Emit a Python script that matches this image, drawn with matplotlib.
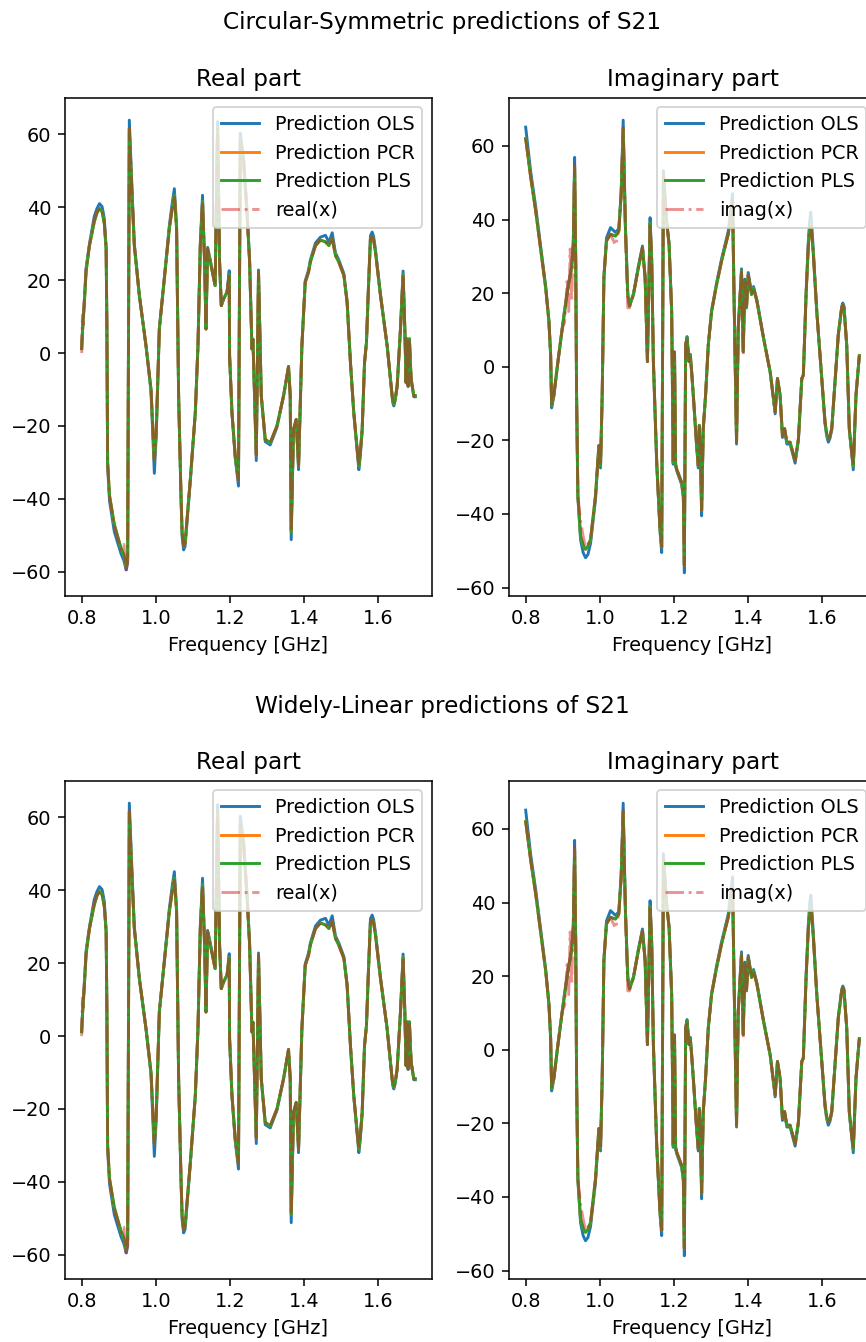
import matplotlib
matplotlib.use("Agg")
import matplotlib.pyplot as plt

# ---------------------------------------------------------------- data
# Real part of S21 versus frequency (GHz)
real_freq = [
    0.800, 0.802, 0.804, 0.807, 0.812, 0.821, 0.834, 0.841, 0.848, 0.855, 0.861, 0.866,
    0.868, 0.870, 0.875, 0.888, 0.906, 0.914, 0.920, 0.924, 0.9285, 0.936,
    0.942, 0.9555, 0.9735, 0.987, 0.996, 1.001, 1.0095, 1.023, 1.0365, 1.044, 1.050,
    1.056, 1.0615, 1.068, 1.071, 1.075, 1.079, 1.093, 1.1065, 1.1137, 1.120,
    1.126, 1.1315, 1.1353, 1.1397, 1.147, 1.160, 1.1666, 1.172, 1.1766, 1.183,
    1.192, 1.198, 1.199, 1.2054, 1.2143, 1.223, 1.2278, 1.2367, 1.2458, 1.253,
    1.2593, 1.262, 1.271, 1.277, 1.2844, 1.2952, 1.3086, 1.3267, 1.3445, 1.358,
    1.3626, 1.3652, 1.3714, 1.3787, 1.385, 1.394, 1.403, 1.412, 1.417, 1.4307,
    1.444, 1.4577, 1.4668, 1.4758, 1.4846, 1.4938, 1.5073, 1.516, 1.525, 1.534,
    1.5432, 1.5477, 1.551, 1.5566, 1.563, 1.5682, 1.5728, 1.579, 1.5836, 1.5875, 1.5925, 1.606,
    1.624, 1.6375, 1.6395, 1.642, 1.6455, 1.651, 1.660, 1.667, 1.6717, 1.675, 1.678, 1.6806,
    1.684, 1.6887, 1.696, 1.700,
]
real_true = [
    0.0, 10.5, 7.0, 14.5, 23.0, 29.5, 36.5, 38.6, 39.7, 39.0, 36.0, 28.7,
    6.7, -30.0, -39.3, -47.5, -53.9, -52.5, -60.3, -57.0, 61.7, 43.3,
    29.5, 15.8, 2.0, -9.9, -29.5, -21.0, 6.7, 20.4, 34.2, 39.5, 43.3,
    34.2, -11.7, -39.3, -49.0, -53.0, -52.0, -34.7, -16.3, 2.0, 29.5,
    41.5, 24.9, 6.6, 28.6, 25.0, 18.5, 61.7, 25.0, 13.0, 14.9,
    16.7, 21.5, -0.7, -16.3, -28.3, -35.0, 58.5, 52.5, 38.7, 25.0,
    1.1, 3.8, -28.0, 22.2, -11.7, -23.7, -24.6, -20.0, -11.7, -3.7,
    -11.7, -49.0, -20.9, -18.2, -31.0, 2.0, 19.4, 22.2, 25.0, 29.5,
    31.0, 30.5, 29.5, 31.5, 26.8, 24.9, 21.3, 13.9, -2.6, -16.3,
    -26.4, -31.0, -28.0, -20.9, -2.6, 2.9, 15.8, 31.4, 32.0, 31.0, 27.7, 15.8,
    2.0, -11.7, -13.3, -14.0, -12.8, -9.0, 6.6, 21.5, 6.6, -8.0, 3.9, -9.0,
    3.9, -7.2, -11.7, -11.7,
]
real_ols = [
    1.5, 6.0, 9.5, 14.0, 23.5, 30.0, 37.5, 39.6, 41.0, 40.2, 37.0, 29.0,
    6.7, -31.0, -40.5, -49.0, -55.0, -57.0, -59.5, -57.5, 63.9, 44.5,
    30.0, 16.0, 2.0, -10.5, -33.0, -23.0, 6.7, 20.8, 35.0, 41.0, 45.1,
    35.0, -11.7, -40.0, -50.5, -54.0, -53.0, -35.2, -16.5, 2.0, 30.0,
    43.3, 25.5, 6.6, 29.0, 25.5, 18.5, 63.5, 25.0, 13.0, 14.9,
    16.7, 22.6, -0.7, -16.5, -29.0, -36.5, 60.3, 53.5, 39.5, 25.5,
    1.1, 3.8, -29.5, 22.8, -11.7, -24.3, -25.2, -20.4, -11.9, -3.7,
    -11.7, -51.2, -21.5, -18.5, -32.0, 2.0, 19.8, 22.8, 25.6, 30.2,
    31.8, 32.3, 30.4, 33.0, 27.5, 25.5, 21.8, 14.2, -2.6, -16.6,
    -27.0, -32.0, -29.0, -21.5, -2.6, 2.9, 16.2, 32.2, 33.2, 32.0, 28.4, 16.2,
    2.0, -12.0, -13.7, -14.5, -13.1, -9.2, 6.8, 22.5, 6.6, -8.2, 3.9, -9.2,
    3.9, -7.4, -12.0, -12.0,
]
real_pcr = [
    1.2, 5.5, 9.0, 13.5, 22.5, 29.5, 36.0, 38.4, 39.7, 38.8, 35.5, 28.5,
    6.7, -30.0, -39.0, -47.0, -53.5, -55.5, -58.5, -56.0, 61.5, 43.0,
    29.5, 15.8, 2.0, -9.9, -29.5, -22.0, 6.7, 20.4, 34.2, 39.5, 43.3,
    34.2, -11.7, -39.3, -49.5, -53.0, -52.0, -34.7, -16.3, 2.0, 29.5,
    41.5, 24.9, 6.6, 28.6, 25.0, 18.5, 62.0, 25.0, 13.0, 14.9,
    16.7, 21.5, -0.7, -16.3, -28.3, -35.0, 58.5, 52.5, 38.7, 25.0,
    1.1, 3.8, -28.0, 22.2, -11.7, -23.7, -24.6, -20.0, -11.7, -3.7,
    -11.7, -49.0, -20.9, -18.2, -31.0, 2.0, 19.4, 22.2, 25.0, 29.5,
    31.0, 30.5, 29.5, 31.5, 26.8, 24.9, 21.3, 13.9, -2.6, -16.3,
    -26.4, -31.0, -28.0, -20.9, -2.6, 2.9, 15.8, 31.4, 32.0, 31.0, 27.7, 15.8,
    2.0, -11.7, -13.3, -14.0, -12.8, -9.0, 6.6, 21.5, 6.6, -8.0, 3.9, -9.0,
    3.9, -7.2, -11.7, -11.7,
]
real_pls = [
    1.2, 5.5, 9.0, 13.5, 22.5, 29.5, 36.0, 38.4, 39.7, 38.8, 35.5, 28.5,
    6.7, -30.0, -39.0, -47.0, -53.5, -55.5, -58.5, -56.0, 61.5, 43.0,
    29.5, 15.8, 2.0, -9.9, -29.5, -22.0, 6.7, 20.4, 34.2, 39.5, 43.3,
    34.2, -11.7, -39.3, -49.5, -53.0, -52.0, -34.7, -16.3, 2.0, 29.5,
    41.5, 24.9, 6.6, 28.6, 25.0, 18.5, 62.0, 25.0, 13.0, 14.9,
    16.7, 21.5, -0.7, -16.3, -28.3, -35.0, 58.5, 52.5, 38.7, 25.0,
    1.1, 3.8, -28.0, 22.2, -11.7, -23.7, -24.6, -20.0, -11.7, -3.7,
    -11.7, -49.0, -20.9, -18.2, -31.0, 2.0, 19.4, 22.2, 25.0, 29.5,
    31.0, 30.5, 29.5, 31.5, 26.8, 24.9, 21.3, 13.9, -2.6, -16.3,
    -26.4, -31.0, -28.0, -20.9, -2.6, 2.9, 15.8, 31.4, 32.0, 31.0, 27.7, 15.8,
    2.0, -11.7, -13.3, -14.0, -12.8, -9.0, 6.6, 21.5, 6.6, -8.0, 3.9, -9.0,
    3.9, -7.2, -11.7, -11.7,
]

# Imaginary part of S21 versus frequency (GHz)
imag_freq = [
    0.800, 0.8135, 0.827, 0.840, 0.854, 0.8627, 0.8673, 0.870, 0.876, 0.887,
    0.8988, 0.905, 0.910, 0.912, 0.916, 0.920, 0.924, 0.9284, 0.932, 0.935,
    0.9373, 0.9408, 0.948, 0.955, 0.9615, 0.968, 0.975, 0.9884, 0.9973, 1.0019, 1.0064,
    1.011, 1.018, 1.0288, 1.0423, 1.0512, 1.0576, 1.063, 1.069, 1.0754, 1.080,
    1.0907, 1.104, 1.115, 1.1222, 1.1284, 1.1356, 1.140, 1.1445, 1.1535, 1.1625,
    1.1669, 1.1715, 1.180, 1.1868, 1.1938, 1.198, 1.2015, 1.2045, 1.2073, 1.2207,
    1.2253, 1.228, 1.2315, 1.2353, 1.2406, 1.244, 1.2477, 1.2522, 1.2612, 1.2657,
    1.2684, 1.271, 1.2746, 1.279, 1.2853, 1.2926, 1.3015, 1.315, 1.3284, 1.3464,
    1.358, 1.362, 1.3688, 1.3734, 1.3822, 1.3868, 1.3913, 1.3957, 1.4003, 1.4092,
    1.4146, 1.4237, 1.4415, 1.4595, 1.473, 1.4792, 1.4864, 1.4926, 1.4985, 1.5045,
    1.5133, 1.518, 1.5268, 1.5357, 1.5448, 1.549, 1.5564, 1.5626, 1.566, 1.569, 1.572, 1.576,
    1.5852, 1.5986, 1.6075, 1.612, 1.6164, 1.621, 1.6256, 1.6344, 1.6433, 1.6525, 1.6555, 1.6587, 1.666,
    1.673, 1.6794, 1.6837, 1.691, 1.700,
]
imag_true = [
    62.0, 51.5, 42.3, 32.3, 21.4, 12.3, 3.2, -10.5, -7.7, 1.4,
    10.5, 12.0, 20.0, 24.0, 15.0, 32.0, 18.0, 33.2, 55.0, 28.7,
    -7.7, -35.0, -42.0, -46.0, -49.0, -48.2, -46.9, -35.0, -21.4, -26.9, -7.7,
    24.2, 34.2, 36.0, 33.0, 36.9, 46.9, 65.0, 37.8, 16.0, 16.0,
    19.6, 26.9, 32.3, 24.2, 1.4, 39.0, 28.7, 1.4, -26.0, -44.2,
    -49.0, 52.0, 39.6, 33.2, 15.0, -26.0, 4.0, -26.5, -27.8, -31.4,
    -35.0, -54.0, 5.9, 7.8, 1.4, 3.2, -1.4, -7.7, -21.4, -26.9,
    -15.9, -21.4, -39.0, -16.8, -7.7, 5.9, 15.0, 22.3, 28.7, 36.0,
    45.0, 19.6, -20.5, 10.5, 26.0, 3.2, 23.2, 16.0, 25.0, 19.6,
    21.4, 17.8, 7.8, -1.4, -12.3, -3.2, -7.7, -18.7, -16.8, -20.5,
    -20.5, -22.3, -25.5, -19.6, -3.2, -2.3, 19.6, 33.2, 36.8, 38.0, 35.5, 30.5,
    15.0, -3.2, -15.0, -18.2, -19.6, -18.8, -16.8, -4.1, 8.7, 16.0, 16.8, 16.0, 5.9,
    -16.8, -23.2, -27.0, -7.7, 3.0,
]
imag_ols = [
    65.1, 53.0, 43.5, 33.0, 21.8, 12.5, 3.2, -11.2, -8.0, 1.4,
    10.8, 15.5, 19.0, 20.5, 23.0, 25.0, 27.5, 33.5, 56.9, 28.7,
    -7.7, -35.5, -47.0, -50.5, -51.9, -51.0, -48.0, -36.0, -21.8, -27.5, -7.7,
    24.5, 35.0, 37.8, 36.5, 37.5, 47.5, 67.0, 38.3, 19.8, 16.8,
    19.8, 27.3, 32.8, 24.5, 1.4, 40.5, 29.0, 1.4, -26.5, -45.0,
    -50.5, 53.3, 40.0, 33.5, 15.0, -26.5, 4.0, -27.0, -28.2, -32.0,
    -35.5, -56.0, 5.9, 8.2, 1.4, 3.4, -1.4, -8.0, -21.8, -27.5,
    -16.0, -21.8, -40.5, -17.0, -7.7, 6.0, 15.3, 22.8, 29.3, 36.8,
    47.0, 19.6, -21.0, 10.5, 26.6, 4.1, 23.8, 16.3, 25.6, 20.0,
    21.8, 18.2, 8.0, -1.4, -12.8, -3.2, -8.0, -19.2, -17.2, -21.0,
    -21.0, -22.8, -26.2, -20.0, -3.2, -2.3, 20.0, 34.5, 39.5, 42.0, 38.0, 31.5,
    15.3, -3.4, -15.5, -18.8, -20.5, -19.4, -17.2, -4.1, 8.9, 16.4, 17.3, 16.5, 6.0,
    -17.2, -23.8, -28.0, -7.9, 3.0,
]
imag_pcr = [
    62.0, 51.5, 42.3, 32.3, 21.4, 12.3, 3.2, -10.5, -7.7, 1.4,
    10.5, 15.0, 18.5, 20.0, 22.5, 24.5, 27.0, 33.2, 54.2, 28.7,
    -7.7, -35.0, -46.0, -48.5, -49.6, -48.8, -46.9, -35.0, -21.4, -26.9, -7.7,
    24.2, 34.2, 36.0, 35.5, 36.9, 46.9, 64.5, 37.8, 19.6, 16.5,
    19.6, 26.9, 32.3, 24.2, 1.4, 39.0, 28.7, 1.4, -26.0, -44.2,
    -49.0, 52.0, 39.6, 33.2, 15.0, -26.0, 4.0, -26.5, -27.8, -31.4,
    -35.0, -54.0, 5.9, 7.8, 1.4, 3.2, -1.4, -7.7, -21.4, -26.9,
    -15.9, -21.4, -39.0, -16.8, -7.7, 5.9, 15.0, 22.3, 28.7, 36.0,
    45.0, 19.6, -20.5, 10.5, 26.0, 4.1, 23.2, 16.0, 25.0, 19.6,
    21.4, 17.8, 7.8, -1.4, -12.3, -3.2, -7.7, -18.7, -16.8, -20.5,
    -20.5, -22.3, -25.5, -19.6, -3.2, -2.3, 19.6, 33.2, 37.2, 39.0, 36.0, 30.5,
    15.0, -3.2, -15.0, -18.2, -19.6, -18.8, -16.8, -4.1, 8.7, 16.0, 16.8, 16.0, 5.9,
    -16.8, -23.2, -27.0, -7.7, 3.0,
]
imag_pls = [
    62.0, 51.5, 42.3, 32.3, 21.4, 12.3, 3.2, -10.5, -7.7, 1.4,
    10.5, 15.0, 18.5, 20.0, 22.5, 24.5, 27.0, 33.2, 54.2, 28.7,
    -7.7, -35.0, -46.0, -48.5, -49.6, -48.8, -46.9, -35.0, -21.4, -26.9, -7.7,
    24.2, 34.2, 36.0, 35.5, 36.9, 46.9, 64.5, 37.8, 19.6, 16.5,
    19.6, 26.9, 32.3, 24.2, 1.4, 39.0, 28.7, 1.4, -26.0, -44.2,
    -49.0, 52.0, 39.6, 33.2, 15.0, -26.0, 4.0, -26.5, -27.8, -31.4,
    -35.0, -54.0, 5.9, 7.8, 1.4, 3.2, -1.4, -7.7, -21.4, -26.9,
    -15.9, -21.4, -39.0, -16.8, -7.7, 5.9, 15.0, 22.3, 28.7, 36.0,
    45.0, 19.6, -20.5, 10.5, 26.0, 4.1, 23.2, 16.0, 25.0, 19.6,
    21.4, 17.8, 7.8, -1.4, -12.3, -3.2, -7.7, -18.7, -16.8, -20.5,
    -20.5, -22.3, -25.5, -19.6, -3.2, -2.3, 19.6, 33.2, 37.2, 39.0, 36.0, 30.5,
    15.0, -3.2, -15.0, -18.2, -19.6, -18.8, -16.8, -4.1, 8.7, 16.0, 16.8, 16.0, 5.9,
    -16.8, -23.2, -27.0, -7.7, 3.0,
]

row_titles = ["Circular-Symmetric predictions of S21",
              "Widely-Linear predictions of S21"]
col_titles = ["Real part", "Imaginary part"]
truth_labels = ["real(x)", "imag(x)"]
pred_labels = ["Prediction OLS", "Prediction PCR", "Prediction PLS"]

# ---------------------------------------------------------------- figure
DPI = 139
W, H = 866, 1342
fig = plt.figure(figsize=(W / DPI, H / DPI), dpi=DPI)


def axes_px(left, top, right, bottom):
    """Add an axes given its box in pixel coordinates (origin top-left)."""
    return fig.add_axes([left / W, 1 - bottom / H,
                         (right - left) / W, (bottom - top) / H])


panels = [
    (real_freq, real_ols, real_pcr, real_pls, real_true),
    (imag_freq, imag_ols, imag_pcr, imag_pls, imag_true),
]
col_px = [(65, 432), (509, 876)]
row_px = [(97.5, 595.5), (780.5, 1278.5)]
title_y = [22, 706]

for r in range(2):
    fig.text(442 / W, 1 - title_y[r] / H, row_titles[r],
             ha="center", va="center", fontsize=12)
    top, bottom = row_px[r]
    for c in range(2):
        left, right = col_px[c]
        ax = axes_px(left, top, right, bottom)
        freq, ols, pcr, pls, true = panels[c]
        ax.plot(freq, ols, color="tab:blue", label=pred_labels[0])
        ax.plot(freq, pcr, color="tab:orange", label=pred_labels[1])
        ax.plot(freq, pls, color="tab:green", label=pred_labels[2])
        ax.plot(freq, true, "-.", color="tab:red", alpha=0.5,
                label=truth_labels[c])
        ax.set_title(col_titles[c])
        ax.set_xlabel("Frequency [GHz]")
        ax.legend(loc="upper right")

fig.savefig("out.png", dpi=DPI)
